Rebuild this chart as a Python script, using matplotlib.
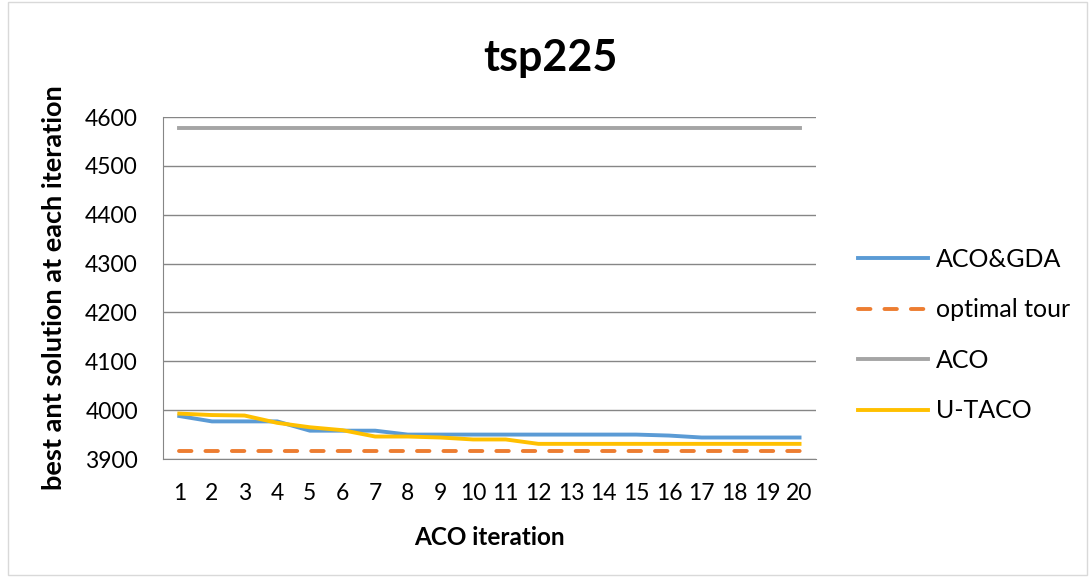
import numpy as np
from matplotlib import pyplot as plt
from matplotlib.patches import Rectangle

plt.rcParams['font.family'] = ['Lato', 'DejaVu Sans']

iterations = list(range(1, 21))
aco_gda = [3988, 3977, 3977, 3977, 3958, 3958, 3958, 3950, 3950, 3950,
           3950, 3950, 3950, 3950, 3950, 3948, 3944, 3944, 3944, 3944]
optimal = [3916] * 20
aco = [4578] * 20
u_taco = [3993, 3990, 3989, 3974, 3965, 3959, 3946, 3946, 3944, 3940,
          3940, 3931, 3931, 3931, 3931, 3931, 3931, 3931, 3931, 3931]
y_ticks = [3900, 4000, 4100, 4200, 4300, 4400, 4500, 4600]

fig = plt.figure(figsize=(10.9, 5.77), dpi=100)
ax = fig.add_axes([0.1495, 0.2045, 0.599, 0.5925])

ax.plot(iterations, aco_gda, color='#5B9BD5', lw=2.8, label='ACO&GDA')
ax.plot(iterations, optimal, color='#ED7D31', lw=2.8, ls=(0, (3.2, 3.6)),
        dash_capstyle='round', label='optimal tour')
ax.plot(iterations, aco, color='#A5A5A5', lw=2.8, label='ACO')
ax.plot(iterations, u_taco, color='#FFC000', lw=2.8, label='U-TACO')

ax.set_xlim(0.5, 20.5)
ax.set_ylim(3900, 4600)
ax.set_yticks(y_ticks)
ax.set_xticks(iterations)
ax.grid(axis='y', color='#868686', lw=1)
ax.set_axisbelow(True)
for s in ['top', 'right']:
    ax.spines[s].set_visible(False)
for s in ['left', 'bottom']:
    ax.spines[s].set_color('#868686')
ax.tick_params(length=0, labelsize=16.5)
ax.tick_params(axis='x', pad=17)
ax.tick_params(axis='y', pad=18)

fig.text(0.505, 0.9, 'tsp225', fontsize=31, fontweight='bold',
         ha='center', va='center')
ax.set_xlabel('ACO iteration', fontsize=17.5, fontweight='bold', labelpad=16)
ax.set_ylabel('best ant solution at each iteration', fontsize=19.5,
              fontweight='bold', labelpad=14)

h, l = ax.get_legend_handles_labels()
fig.legend(h, l, loc='center left', bbox_to_anchor=(0.776, 0.419), frameon=False,
           fontsize=18, handlelength=2.8, handletextpad=0.3, labelspacing=1.1,
           borderpad=0)

fig.patches.append(Rectangle((0.007, 0.004), 0.99, 0.993, transform=fig.transFigure,
                             fill=False, edgecolor='#D9D9D9', lw=1))

plt.savefig('out.png', dpi=100)
